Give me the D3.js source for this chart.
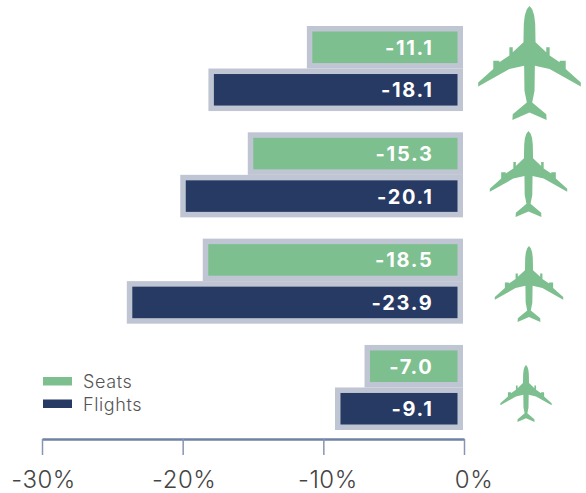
<!DOCTYPE html>
<html>
<head>
<meta charset="utf-8">
<script src="https://cdn.jsdelivr.net/npm/d3@7"></script>
<style>
  html, body { margin: 0; padding: 0; background: #fff; }
  svg { display: block; font-family: "Inter", "Open Sans", sans-serif; }
</style>
</head>
<body>
<svg id="chart"></svg>
<script>
// DATA
const categories = ['Largest', 'Large', 'Medium', 'Small'];
const seriesNames = ['Seats', 'Flights'];
const seatValues = [-11.1, -15.3, -18.5, -7.0];
const flightValues = [-18.1, -20.1, -23.9, -9.1];
const tickValues = [-30, -20, -10, 0];

const width = 586, height = 493;
const colors = { Seats: '#7dbf8e', Flights: '#273a63' };
const outline = '#bfc5d3';
const inset = 5.5;

const rows = categories.flatMap((c, i) => [
  { category: c, series: 'Seats', value: seatValues[i] },
  { category: c, series: 'Flights', value: flightValues[i] },
]);

const svg = d3.select('#chart').attr('width', width).attr('height', height);

//SCALES
const x = d3.scaleLinear().domain([-30, 0]).range([42, 464]);
const y = d3.scaleBand().domain(categories).range([26, 430]).paddingInner(0.2);
const ySeries = d3.scaleBand().domain(seriesNames).range([0, y.bandwidth()]);
const barRight = x(0) - 1;

//BARS
const bars = svg
  .selectAll('.bar')
  .data(rows)
  .enter()
  .append('g')
  .classed('bar', true)
  .attr('transform', (d) => `translate(0,${y(d.category) + ySeries(d.series)})`);

bars
  .append('rect')
  .attr('x', (d) => x(d.value) - 1)
  .attr('width', (d) => barRight - x(d.value) + 1)
  .attr('height', ySeries.bandwidth())
  .attr('fill', outline);

bars
  .append('rect')
  .attr('x', (d) => x(d.value) - 1 + inset)
  .attr('y', inset)
  .attr('width', (d) => barRight - x(d.value) + 1 - inset * 2)
  .attr('height', ySeries.bandwidth() - inset * 2)
  .attr('fill', (d) => colors[d.series]);

bars
  .append('text')
  .attr('x', 433.5)
  .attr('y', ySeries.bandwidth() / 2 + 7.5)
  .attr('text-anchor', 'end')
  .attr('fill', '#fff')
  .attr('font-size', 20)
  .attr('font-weight', 700)
  .attr('letter-spacing', '1.7px')
  .text((d) => d.value.toFixed(1));

//AXIS
const axis = svg
  .append('g')
  .attr('transform', 'translate(0,439)')
  .call(
    d3.axisBottom(x)
      .tickValues(tickValues)
      .tickSize(16)
      .tickSizeOuter(0)
      .tickPadding(16)
      .tickFormat((d) => `${d}%`)
  );
axis.select('.domain').attr('stroke', '#6f82a3').attr('stroke-width', 2.5);
axis.selectAll('.tick line').attr('stroke', '#8496b3').attr('stroke-width', 1.5);
axis
  .selectAll('.tick text')
  .attr('fill', '#444')
  .attr('font-size', 24)
  .attr('font-weight', 300)
  .attr('font-family', 'Inter, sans-serif')
  .attr('letter-spacing', '0.5px')
  .attr('dx', (d) => (d === 0 ? 9.5 : d === -10 ? 4 : 1));

//LEGEND
const legend = svg
  .selectAll('.legend')
  .data(seriesNames)
  .enter()
  .append('g')
  .classed('legend', true)
  .attr('transform', (d, i) => `translate(43,${377 + i * 22.5})`);

legend
  .append('rect')
  .attr('width', 29)
  .attr('height', 8.5)
  .attr('fill', (d) => colors[d]);

legend
  .append('text')
  .attr('x', 40)
  .attr('y', 11)
  .attr('fill', '#555')
  .attr('font-size', 18)
  .attr('font-weight', 300)
  .attr('letter-spacing', '0.6px')
  .text((d) => d);

//PLANE ICONS
const planeHalf = [
  [0, 17], [-8, 27], [-14, 45], [-17, 70], [-18, 125], [-50, 155], [-50, 140],
  [-60, 140], [-60, 165], [-90, 185], [-90, 180], [-108, 180], [-108, 205],
  [-153, 245], [-153, 257], [-60, 205], [-16, 195], [-15, 270], [-8, 305],
  [-50, 340], [-51, 357], [0, 335],
];
const planeOutline = planeHalf.concat(
  planeHalf.slice(1, -1).reverse().map(([a, b]) => [-a, b])
);
const planeBoxes = [
  { cx: 529.5, top: 6, bottom: 120 },
  { cx: 528.5, top: 131, bottom: 217 },
  { cx: 529, top: 246, bottom: 322 },
  { cx: 526, top: 365, bottom: 422 },
];

svg
  .selectAll('.plane')
  .data(planeBoxes)
  .enter()
  .append('path')
  .classed('plane', true)
  .attr('fill', colors.Seats)
  .attr('d', (b) => {
    const py = d3.scaleLinear().domain([17, 357]).range([b.top, b.bottom]);
    const k = (b.bottom - b.top) / 340;
    return d3.line().x((p) => b.cx + p[0] * k).y((p) => py(p[1]))(planeOutline) + 'Z';
  });
</script>
</body>
</html>
